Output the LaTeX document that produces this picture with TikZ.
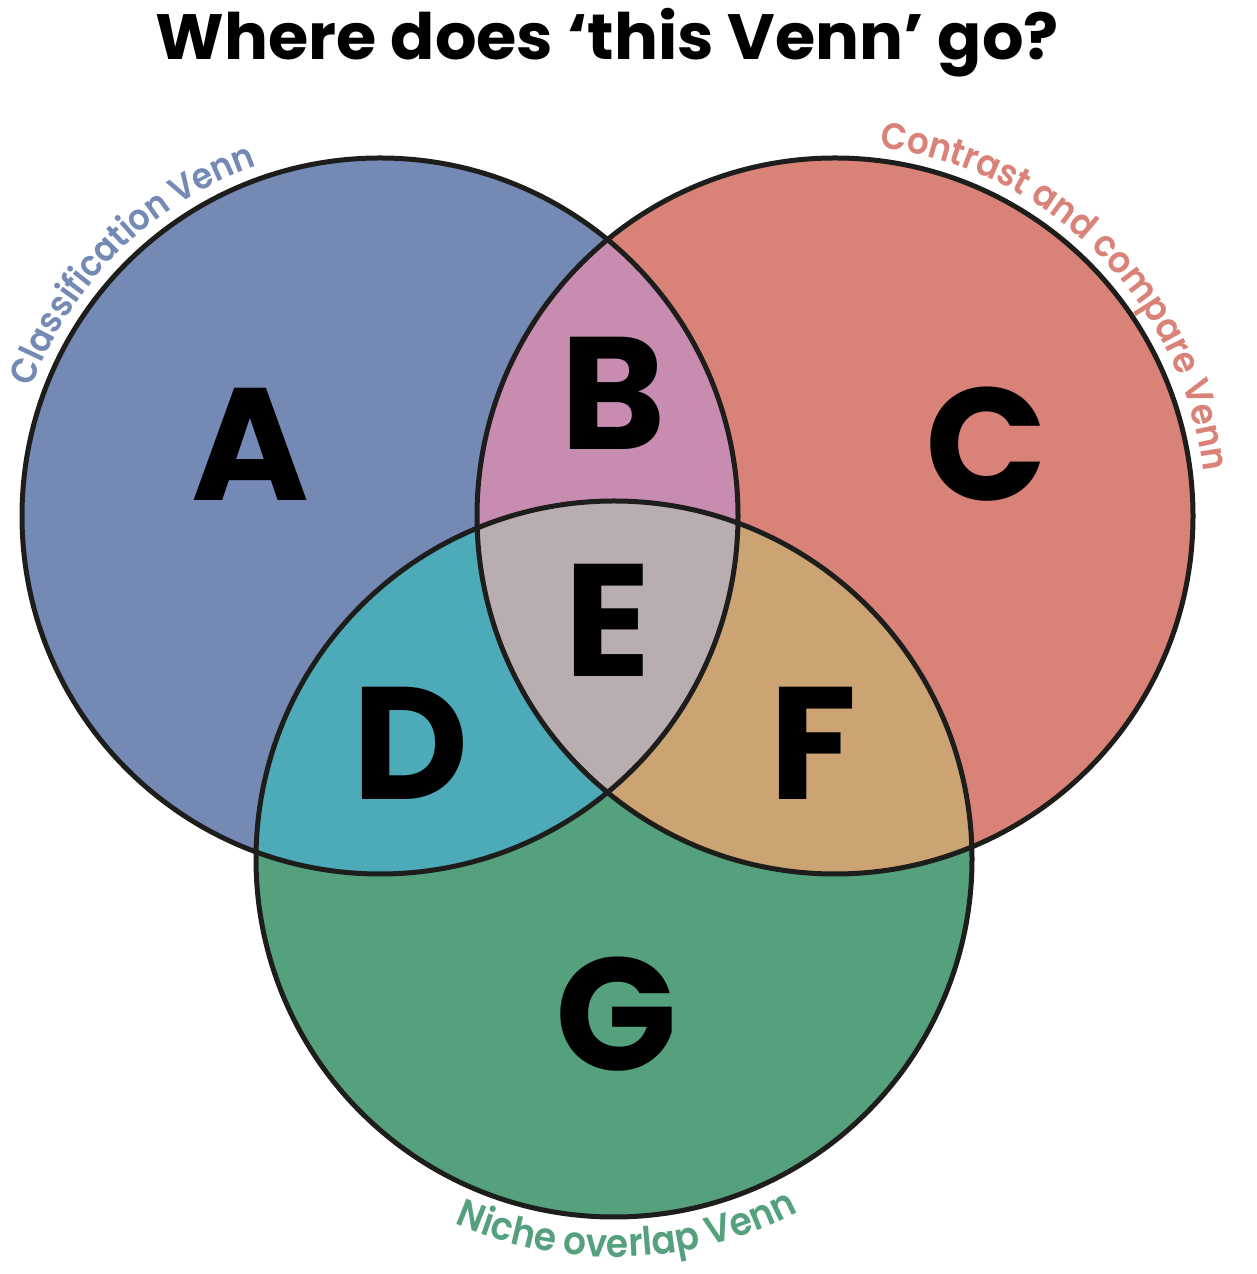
\documentclass[tikz,border=0pt]{standalone}
\usepackage{fontspec}
\setmainfont{Poppins}
\newfontfamily\titlefont[FakeStretch=1.02]{Poppins}
\newfontfamily\labfont[FakeStretch=0.92]{Poppins SemiBold}
\usetikzlibrary{decorations.text}
\definecolor{cA}{HTML}{7589B5}
\definecolor{cC}{HTML}{D98277}
\definecolor{cG}{HTML}{56A17D}
\definecolor{cB}{HTML}{C88CB0}
\definecolor{cD}{HTML}{4DAAB8}
\definecolor{cF}{HTML}{CCA473}
\definecolor{cE}{HTML}{B8AEB0}
\definecolor{ring}{HTML}{1D1D1B}
\begin{document}
\begin{tikzpicture}[x=1pt,y=1pt,
  ringline/.style={draw=ring,line width=5pt},
  bigletter/.style={font=\bfseries\fontsize{160}{160}\selectfont,anchor=base,inner sep=0pt},
  arclabel/.style={decorate,decoration={text along path,text align=center,text color=#1,
     text format delimiters={|}{|}}}]
\useasboundingbox (0,0) rectangle (1257,1274);
\coordinate (cl) at (380,758);
\coordinate (cr) at (835,758);
\coordinate (cg) at (614,415);
\fill[cA] (cl) circle[radius=358pt];
\fill[cC] (cr) circle[radius=358pt];
\fill[cG] (cg) circle[radius=358pt];
\begin{scope}
  \clip (cl) circle[radius=358pt];
  \fill[cB] (cr) circle[radius=358pt];
  \fill[cD] (cg) circle[radius=358pt];
\end{scope}
\begin{scope}
  \clip (cr) circle[radius=358pt];
  \fill[cF] (cg) circle[radius=358pt];
\end{scope}
\begin{scope}
  \clip (cl) circle[radius=358pt];
  \clip (cr) circle[radius=358pt];
  \fill[cE] (cg) circle[radius=358pt];
\end{scope}
\draw[ringline] (cl) circle[radius=358pt];
\draw[ringline] (cr) circle[radius=358pt];
\draw[ringline] (cg) circle[radius=358pt];

\node[font=\titlefont\bfseries\fontsize{64}{70}\selectfont,anchor=base,inner sep=0pt] (title) at (607.5,1214) {Where does ‘this Venn’ go?};

\node[bigletter] (A) at (250,773) {A};
\node[bigletter] (B) at (613,824) {B};
\node[bigletter] (C) at (986,773) {C};
\node[bigletter] (D) at (411,474) {D};
\node[bigletter] (E) at (608,597) {E};
\node[bigletter] (F) at (813,474) {F};
\node[bigletter] (G) at (616,203) {G};

\path[arclabel=cA,decoration={text={|\labfont\fontsize{36}{38}\selectfont|Classification Venn}}]
  (cl) ++(164.5:371pt) arc[start angle=164.5,end angle=104.5,radius=371pt];
\path[arclabel=cC,decoration={text={|\labfont\fontsize{37}{38}\selectfont|Contrast and compare Venn}}]
  (cr) ++(95:371pt) arc[start angle=95,end angle=-5,radius=371pt];
\path[arclabel=cG,decoration={text={|\labfont\fontsize{39}{40}\selectfont|Niche overlap Venn}}]
  (cg) ++(237:398pt) arc[start angle=237,end angle=307,radius=398pt];
\end{tikzpicture}
\end{document}
